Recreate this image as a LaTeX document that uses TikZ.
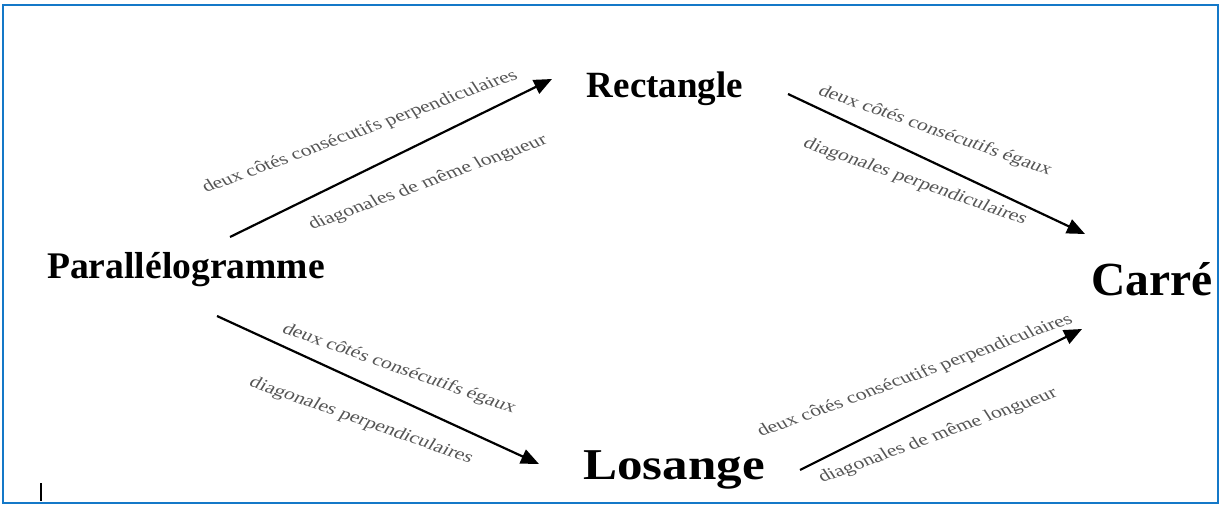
\documentclass[tikz,border=0pt]{standalone}
\usepackage{fontspec}
\setmainfont{Liberation Serif}
\usetikzlibrary{arrows.meta}
\definecolor{frameblue}{RGB}{20,120,200}
\definecolor{labelgray}{RGB}{85,85,85}
\tikzset{
  shapename/.style={font=\bfseries, inner sep=0pt, anchor=base},
  arr/.style={line width=2.2pt, -{Triangle[length=18pt,width=15pt]}},
  cond/.style={text=labelgray, inner sep=0pt, anchor=center, xscale=1.33, transform shape,
               font=\fontsize{16.5}{18}\selectfont}
}
\begin{document}
\begin{tikzpicture}[x=1pt,y=-1pt]
\useasboundingbox (0,0) rectangle (1230,505);
\fill[white] (0,0) rectangle (1230,505);
\draw[frameblue, line width=2pt] (3,5) rectangle (1218,503);

\node[shapename, font=\fontsize{37}{40}\selectfont\bfseries] (rect) at (665,98) {Rectangle};
\node[shapename, font=\fontsize{37.6}{40}\selectfont\bfseries] (para) at (186,278) {Parallélogramme};
\node[shapename, font=\fontsize{47.5}{50}\selectfont\bfseries] (carre) at (1152,295) {Carré};
\node[shapename, font=\fontsize{44}{48}\selectfont\bfseries, xscale=1.16, transform shape] (los) at (674,479) {Losange};

\coordinate (a1s) at (230,237); \coordinate (a1e) at (552,79);
\coordinate (a2s) at (788,94);  \coordinate (a2e) at (1085,234);
\coordinate (a3s) at (217,316); \coordinate (a3e) at (539,464);
\coordinate (a4s) at (800,470); \coordinate (a4e) at (1082,329);

\draw[arr] (a1s) -- (a1e);
\draw[arr] (a2s) -- (a2e);
\draw[arr] (a3s) -- (a3e);
\draw[arr] (a4s) -- (a4e);

\node[cond, rotate=26] (l1a) at (360,132) {deux côtés consécutifs perpendiculaires};
\node[cond, rotate=26] (l1b) at (428,183) {diagonales de même longueur};
\node[cond, rotate=-25] (l2a) at (935,131) {deux côtés consécutifs égaux};
\node[cond, rotate=-25] (l2b) at (915,182) {diagonales perpendiculaires};
\node[cond, rotate=-25] (l3a) at (399,369) {deux côtés consécutifs égaux};
\node[cond, rotate=-25] (l3b) at (361,421) {diagonales perpendiculaires};
\node[cond, rotate=26] (l4a) at (915,376) {deux côtés consécutifs perpendiculaires};
\node[cond, rotate=26] (l4b) at (938,436) {diagonales de même longueur};

\coordinate (cur1) at (41,483); \coordinate (cur2) at (41,501);
\draw[line width=1.3pt] (cur1) -- (cur2);
\end{tikzpicture}
\end{document}
